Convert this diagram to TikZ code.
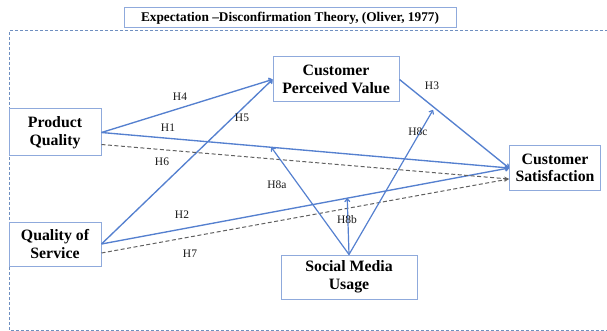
\documentclass[tikz,border=0pt]{standalone}
\usepackage{fontspec}
\setmainfont{Liberation Serif}
\usetikzlibrary{arrows.meta}
\definecolor{boxc}{HTML}{8FAADC}
\definecolor{arrc}{HTML}{5580CF}
\definecolor{dashc}{HTML}{606060}
\definecolor{framec}{HTML}{6F8FC0}
\tikzset{
  varbox/.style={draw=boxc, line width=1pt, fill=white, align=center, inner sep=0pt,
    font=\fontsize{15.8}{17.5}\selectfont\bfseries},
  rel/.style={draw=arrc, line width=1.35pt, -{To[length=4pt,width=6pt]}},
  mod/.style={draw=arrc, line width=1.2pt, -{To[length=4pt,width=6pt]}},
  dashrel/.style={draw=dashc, line width=1pt, dash pattern=on 4pt off 2.5pt, -{Stealth[length=5pt,width=4pt]}},
  hlab/.style={font=\fontsize{11.5}{12}\selectfont, text=black!90, inner sep=0pt},
}
\begin{document}
\begin{tikzpicture}[x=1pt,y=-1pt]
\useasboundingbox (0,0) rectangle (607,331);
% frame
\draw[framec, line width=1pt, dash pattern=on 3pt off 2pt] (608,31) -- (9,31) -- (9,330) -- (608,330);
% title
\node[draw=boxc, line width=1pt, minimum width=332pt, minimum height=20pt, inner sep=0pt,
  font=\fontsize{13.3}{14}\selectfont\bfseries] (title) at (290,18) {Expectation \textendash Disconfirmation Theory, (Oliver, 1977)};
% variables
\node[varbox, minimum width=92pt, minimum height=47pt] (pq) at (55,132.5) {Product\\Quality};
\node[varbox, minimum width=92pt, minimum height=44pt] (qs) at (55,244) {Quality of\\Service};
\node[varbox, minimum width=126pt, minimum height=45pt] (cpv) at (336,79.5) {Customer\\Perceived Value};
\node[varbox, minimum width=91pt, minimum height=44pt] (cs) at (555,168) {Customer\\Satisfaction};
\node[varbox, minimum width=136pt, minimum height=44pt] (smu) at (349,277) {Social Media\\Usage};
% direct paths
\draw[rel] (pq.east) -- (cpv.west);
\draw[rel] (pq.east) -- (cs.west);
\draw[rel] (qs.east) -- (cpv.west);
\draw[rel] (qs.east) -- (cs.west);
\draw[rel] (cpv.east) -- (cs.west);
\draw[dashrel] ([yshift=-12pt]pq.east) -- ([yshift=-11pt]cs.west);
\draw[dashrel] ([yshift=-9pt]qs.east) -- ([yshift=-11pt]cs.west);
% moderation targets
\path (pq.east) -- (cs.west) coordinate[pos=0.4167] (m1);
\path (qs.east) -- (cs.west) coordinate[pos=0.603] (m2);
\coordinate (m3) at (433,110);
\draw[mod] (smu.north) -- (m1);
\draw[mod] (smu.north) -- (m2);
\draw[mod] (smu.north) -- (m3);
% labels
\node[hlab] (l4) at (180,97) {H4};
\node[hlab] (l1) at (168,128) {H1};
\node[hlab] (l5) at (242,118) {H5};
\node[hlab] (l6) at (162,162) {H6};
\node[hlab] (l2) at (182,215) {H2};
\node[hlab] (l7) at (190,254) {H7};
\node[hlab] (l8a) at (277,185) {H8a};
\node[hlab] (l8b) at (347,220) {H8b};
\node[hlab] (l8c) at (418,132) {H8c};
\node[hlab] (l3) at (432,86) {H3};
\end{tikzpicture}
\end{document}
